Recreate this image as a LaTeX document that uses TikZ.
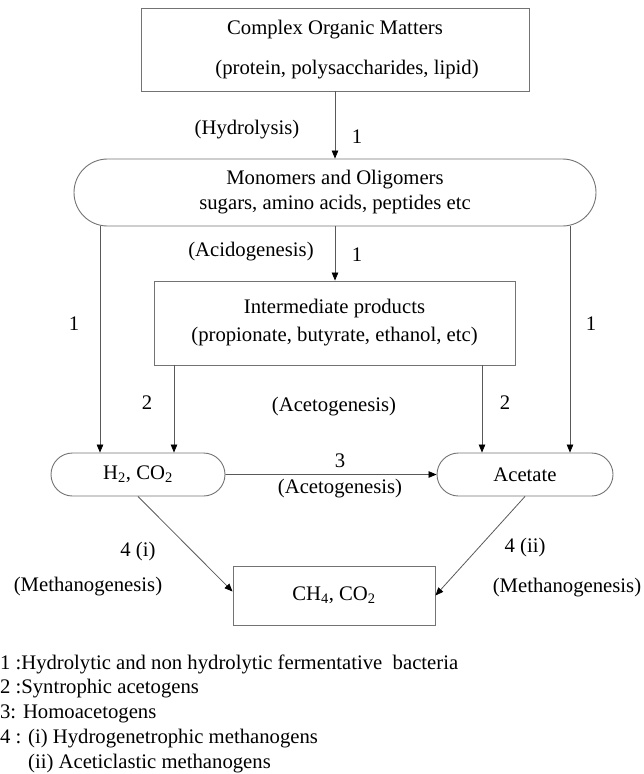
\documentclass[tikz,border=0pt]{standalone}
\usepackage{fontspec}
\setmainfont{Liberation Serif}
\usetikzlibrary{arrows.meta, positioning, shapes.misc}

\begin{document}
\begin{tikzpicture}[x=1pt, y=-1pt, >={Triangle[length=8pt,width=6.5pt,color=black]},
  font=\fontsize{20.7}{24}\selectfont,
  box/.style={draw=black!55, line width=0.9pt, inner sep=0pt, align=center},
  pill/.style={box, rounded rectangle},
  flow/.style={->, draw=black!65, line width=0.8pt}]
  \useasboundingbox (0,0) rectangle (643,774);

  % Stoffe
  \node[box, minimum width=388pt, minimum height=83pt] (cplx) at (335,49.5) {\rule{0pt}{6pt}Complex Organic Matters\\[16pt]\hspace*{24pt}(protein, polysaccharides, lipid)};
  \node[pill, minimum width=522pt, minimum height=67pt] (mono) at (335,192.5) {Monomers and Oligomers\\[1pt]sugars, amino acids, peptides etc};
  \node[box, minimum width=361pt, minimum height=84pt] (inter) at (334.5,323) {Intermediate products\\[4pt](propionate, butyrate, ethanol, etc)};
  \node[pill, minimum width=174pt, minimum height=43pt] (hco) at (138,474.5) {H\textsubscript{2}, CO\textsubscript{2}};
  \node[pill, minimum width=176pt, minimum height=43pt] (acet) at (525,474.5) {Acetate};
  \node[box, minimum width=202pt, minimum height=59pt] (ch4) at (334,595.5) {CH\textsubscript{4}, CO\textsubscript{2}};

  % Pfeile
  \draw[flow] (cplx.south) -- (mono.north);
  \draw[flow] (mono.south) -- (mono.south |- inter.north);
  \draw[flow] ([xshift=-38pt]hco.north |- mono.south) -- ([xshift=-38pt]hco.north);
  \draw[flow] ([xshift=36pt]hco.north |- inter.south) -- ([xshift=36pt]hco.north);
  \draw[flow] ([xshift=-43pt]acet.north |- inter.south) -- ([xshift=-43pt]acet.north);
  \draw[flow] ([xshift=45pt]acet.north |- mono.south) -- ([xshift=45pt]acet.north);
  \draw[flow] (hco) -- (acet);
  \draw[flow] (hco.south) -- ([yshift=4pt]ch4.west);
  \draw[flow] (acet.south) -- (ch4.east);

  % Beschriftungen
  \node (hydro) at (247,130) {(Hydrolysis)};
  \node (n1a) at (357,137) {1};
  \node (acido) at (251,252) {(Acidogenesis)};
  \node (n1b) at (357,255) {1};
  \node (n1l) at (74,324) {1};
  \node (n1r) at (591,324) {1};
  \node (n2l) at (147,403) {2};
  \node (aceto) at (334,407) {(Acetogenesis)};
  \node (n2r) at (505,403) {2};
  \node (n3) at (340,461) {3};
  \node (aceto3) at (340,489) {(Acetogenesis)};
  \node (n4i) at (138,552) {4 (i)};
  \node (methl) at (88,587) {(Methanogenesis)};
  \node (n4ii) at (525,548) {4 (ii)};
  \node (methr) at (567,588) {(Methanogenesis)};

  % Legende
  \node[anchor=base west] (leg1) at (-3.5,669) {1 :Hydrolytic and non hydrolytic fermentative~ bacteria};
  \node[anchor=base west] (leg2) at (-3.5,693.75) {2 :Syntrophic acetogens};
  \node[anchor=base west] (leg3) at (-3.5,718.5) {3: Homoacetogens};
  \node[anchor=base west] (leg4) at (-3.5,743.25) {4 : (i) Hydrogenetrophic methanogens};
  \node[anchor=base west] (leg5) at (-3.5,768) {\phantom{4 : }(ii) Aceticlastic methanogens};
\end{tikzpicture}
\end{document}
